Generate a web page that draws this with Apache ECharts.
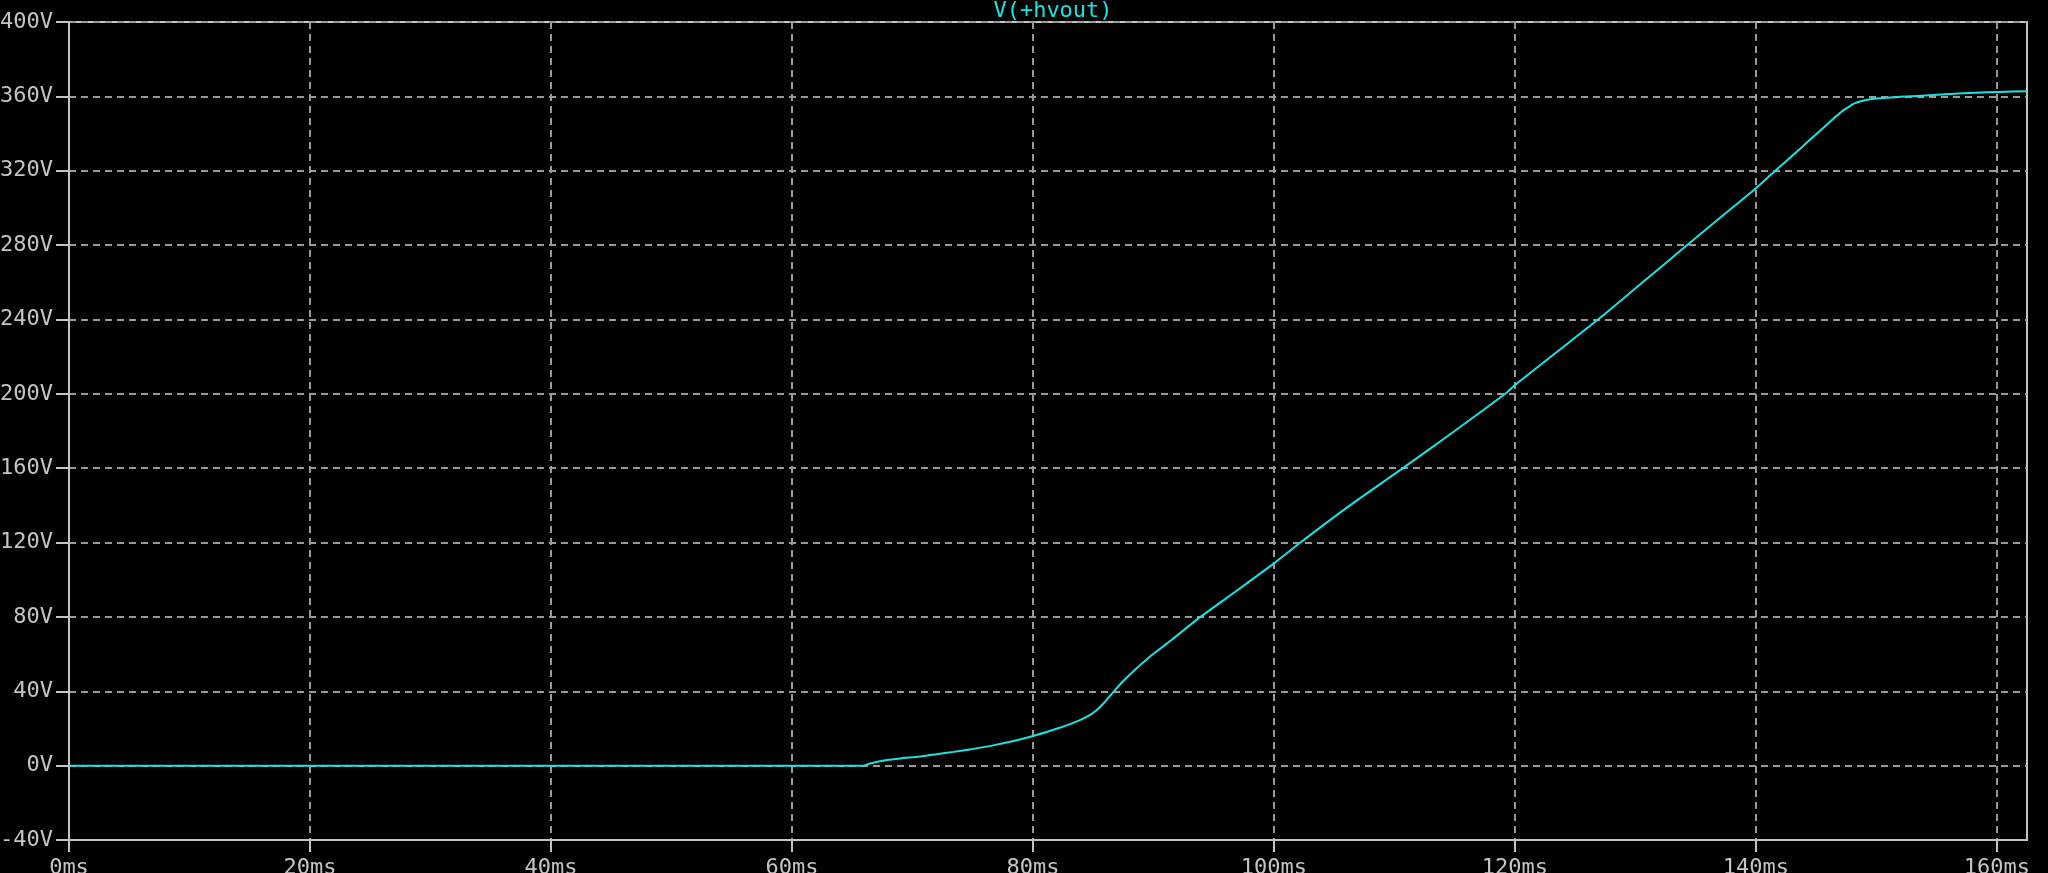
<!DOCTYPE html>
<html>
<head>
<meta charset="utf-8">
<script src="https://cdn.jsdelivr.net/npm/echarts@6/dist/echarts.min.js"></script>
<style>
html,body{margin:0;padding:0;background:#000;}
#chart{width:2048px;height:873px;}
</style>
</head>
<body>
<div id="chart"></div>
<script>
const seriesName = 'V(+hvout)';
const timeMs = [0, 30, 65.9, 66.4, 67, 67.9, 69, 70.6, 72, 73.4, 75, 76.7, 78.4, 80, 81.7, 83.2, 84.5, 85.3, 86, 86.7, 87.5, 88.3, 88.9, 89.7, 90.5, 91.5, 93.9, 97, 100, 102.2, 106, 110.7, 115, 119.2, 120, 123.5, 127.1, 130.7, 134.3, 137.2, 140, 141.4, 143.7, 145, 146.4, 147.2, 147.8, 148.2, 148.8, 149.5, 150.5, 152, 154.7, 156.1, 158.2, 160.2, 162.5];
const voltV = [0, 0, 0, 1.0, 2.0, 3.0, 3.9, 4.9, 6.1, 7.4, 9.0, 10.9, 13.2, 15.9, 19.3, 22.6, 26.3, 29.9, 34.5, 39.8, 45.5, 50.5, 54.1, 58.6, 62.6, 67.6, 80, 94.5, 108.8, 120, 138.5, 160, 180, 200, 204.7, 222.6, 241, 260.5, 280, 295.6, 310.6, 318.8, 332, 339.6, 347.8, 352.2, 354.8, 356.2, 357.5, 358.4, 359, 359.8, 360.7, 361.3, 361.9, 362.4, 362.8];
const xTicks = [0, 20, 40, 60, 80, 100, 120, 140, 160];
const yTicks = [-40, 0, 40, 80, 120, 160, 200, 240, 280, 320, 360, 400];

const data = timeMs.map((t, i) => [t, voltV[i]]);
const font = 'DejaVu Sans Mono';
const axisGray = '#c4c4c4';
const gridGray = '#9a9a9a';
const cyan = '#19e3e3';

const chart = echarts.init(document.getElementById('chart'), null, {renderer: 'canvas'});
chart.setOption({
  backgroundColor: '#000',
  animation: false,
  title: {
    text: seriesName,
    left: 1048, textAlign: 'center',
    top: -5,
    textStyle: {color: cyan, fontFamily: font, fontSize: 22, fontWeight: 'normal'}
  },
  grid: {left: 69, right: 21, top: 22, bottom: 33, outerBoundsMode: 'none', containLabel: false, show: true, borderColor: axisGray, borderWidth: 2, backgroundColor: '#000'},
  xAxis: {
    type: 'value',
    min: 0, max: 162.5, interval: 20,
    axisLine: {show: true, onZero: false, lineStyle: {color: axisGray, width: 2}},
    axisTick: {show: true, length: 12, lineStyle: {color: axisGray, width: 2}, customValues: xTicks},
    axisLabel: {color: axisGray, fontFamily: font, fontSize: 22, margin: 17, formatter: v => v + 'ms', customValues: xTicks},
    splitLine: {show: true, lineStyle: {color: gridGray, width: 2, type: [7, 5]}}
  },
  yAxis: {
    type: 'value',
    min: -40, max: 400, interval: 40,
    axisLine: {show: true, onZero: false, lineStyle: {color: axisGray, width: 2}},
    axisTick: {show: true, length: 13, lineStyle: {color: axisGray, width: 2}, customValues: yTicks},
    axisLabel: {color: axisGray, fontFamily: font, fontSize: 22, margin: 16, formatter: v => v + 'V', customValues: yTicks},
    splitLine: {show: true, lineStyle: {color: gridGray, width: 2, type: [7, 5]}}
  },
  series: [{
    name: seriesName,
    type: 'line',
    data: data,
    showSymbol: false,
    smooth: 0.2,
    lineStyle: {color: cyan, width: 2},
    clip: true
  }]
});
</script>
</body>
</html>
